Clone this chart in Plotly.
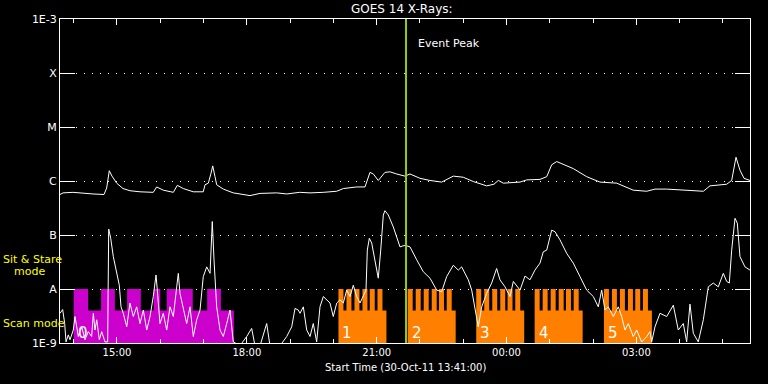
import plotly.graph_objects as go
import pandas as pd

# ---------------- data ----------------
START = pd.Timestamp("2011-10-30 13:41:00")
END = pd.Timestamp("2011-10-31 05:37:30")

# GOES 14 long channel (1-8 A): minutes after start, log10 flux (W/m^2)
long_t_min = [0, 4.2, 18, 31.9, 45.7, 61, 64.7, 68.3, 72.1, 78.6, 87.3, 97, 110.9, 129.3, 134, 143.2,
              157.1, 162.6, 170.9, 184.8, 198.6, 201, 205.6, 209.3, 211.7, 214.9, 217.2, 226.4, 240.2,
              263.4, 277.3, 300.4, 314.3, 332.3, 346.6, 365, 383.6, 392.7, 411.3, 422.8, 426, 429.7,
              434.3, 441.2, 450.5, 457.4, 466.7, 478.2, 485.2, 499, 512.9, 529.1, 545.2, 559, 572.9,
              591.5, 601.6, 607.6, 614.5, 628.4, 637.7, 646.9, 665.4, 674.7, 681.6, 688.5, 697.7,
              711.5, 730.1, 748.5, 771.7, 794.7, 813.3, 824.8, 841, 868.7, 891.8, 901, 924.2, 931.1,
              937.1, 942.6, 948.2, 956.5]
long_log10 = [-6.25, -6.22, -6.21, -6.23, -6.24, -6.25, -6.13, -5.81, -5.91, -6.04, -6.14, -6.18, -6.20,
              -6.21, -6.11, -6.17, -6.21, -6.08, -6.14, -6.20, -6.20, -6.07, -6.04, -5.86, -5.72, -5.92,
              -6.07, -6.15, -6.22, -6.27, -6.23, -6.22, -6.24, -6.21, -6.22, -6.21, -6.19, -6.14, -6.11,
              -6.11, -5.98, -5.84, -5.87, -5.99, -5.84, -5.83, -5.87, -5.91, -5.87, -5.95, -5.99, -6.02,
              -5.91, -5.93, -6.01, -6.09, -6.06, -5.99, -6.04, -6.02, -6.02, -5.98, -5.97, -5.92, -5.70,
              -5.64, -5.69, -5.77, -5.92, -6.02, -6.04, -6.17, -6.19, -6.15, -6.15, -6.17, -6.19, -6.09,
              -6.06, -5.99, -5.56, -5.80, -5.95, -5.99]

# GOES 14 short channel (0.5-4 A): minutes after start, log10 flux (W/m^2)
short_t_min = [0, 3.7, 6.5, 8.3, 11.5, 13.9, 18.4, 20.8, 25.4, 30.1, 34.7, 39.2, 43.9, 46.2, 48.5, 50.9,
               54.5, 57.8, 62.4, 66.1, 67.5, 70.3, 73.9, 78.6, 82.2, 84.6, 87.7, 92.5, 97, 101.6, 106.3,
               110.9, 115.5, 120.2, 124.8, 129.3, 133.1, 134.9, 138.6, 143.2, 147.9, 152.5, 157.1, 161.8,
               164, 166.3, 170.9, 175.6, 180.2, 184.8, 189.5, 194.1, 198.6, 203.4, 208, 211.1, 213.5,
               217.2, 221.8, 226.4, 231.1, 235.7, 240.2, 249.5, 258.8, 265.7, 270.3, 277.3, 286.5, 291.1,
               305, 314.3, 321.2, 325.8, 330.3, 332.7, 337.3, 342, 346.6, 351.1, 355.8, 360.4, 365, 369.7,
               374.3, 378.8, 383.6, 388.1, 392.7, 397.4, 402, 406.6, 411.3, 415.9, 420.4, 424.2, 426,
               428.8, 432.1, 436.7, 441.2, 444.6, 448.2, 450.5, 455.1, 462, 471.3, 478.2, 485.2, 494.5,
               503.6, 512.9, 522.2, 529.1, 536, 545.2, 552.1, 556.8, 566, 570.7, 575.3, 579.8, 584.6,
               591.5, 598.4, 605.3, 609.9, 616.9, 623.8, 628.4, 637.7, 644.6, 651.5, 658.4, 665.4, 670,
               674.7, 681.6, 686.2, 693.1, 702.4, 711.5, 720.8, 730.1, 739.3, 746.2, 750.9, 755.5, 760,
               767, 773.9, 778.6, 783.2, 787.8, 794.7, 799.4, 806.3, 813.3, 817.8, 820.2, 824.8, 831.7,
               841, 850.2, 857.1, 864, 868.7, 873.3, 877.9, 884.8, 891.8, 896.4, 898.7, 905.6, 912.5,
               919.5, 924.2, 927.8, 931.1, 935.7, 938.9, 942.6, 949.5, 956.5]
short_log10 = [-8.45, -8.38, -8.64, -8.98, -8.85, -8.94, -8.76, -8.51, -8.88, -8.70, -8.94, -8.79, -8.88,
               -8.45, -8.76, -8.57, -8.94, -8.79, -8.98, -8.98, -6.89, -7.06, -7.40, -7.74, -7.93, -8.33,
               -8.45, -8.70, -8.26, -8.51, -8.33, -8.64, -8.39, -8.76, -8.51, -8.14, -7.74, -8.02, -8.64,
               -8.45, -8.76, -8.33, -8.51, -7.96, -7.71, -8.08, -8.39, -8.64, -8.33, -8.88, -8.57, -8.39,
               -7.77, -7.59, -7.71, -6.75, -7.46, -8.33, -8.76, -8.88, -8.64, -8.39, -8.98, -9.05, -8.88,
               -8.73, -9.05, -9.05, -8.64, -9.05, -9.05, -8.88, -8.70, -8.36, -8.39, -8.45, -8.33, -8.76,
               -8.88, -8.64, -8.98, -8.33, -8.14, -8.20, -8.26, -8.51, -8.26, -8.20, -8.26, -8.02, -8.14,
               -7.93, -8.14, -8.26, -8.14, -8.02, -7.28, -7.06, -7.15, -7.52, -7.80, -7.28, -6.63, -6.55,
               -6.63, -6.85, -7.22, -7.19, -7.22, -7.46, -7.68, -7.80, -8.02, -8.05, -7.77, -7.56, -7.65,
               -7.59, -7.83, -8.02, -8.33, -8.70, -8.33, -8.08, -7.89, -7.62, -7.83, -7.96, -8.14, -7.86,
               -8.02, -7.76, -7.83, -7.65, -7.52, -7.31, -7.28, -6.91, -6.94, -7.09, -7.34, -7.52, -7.77,
               -8.02, -8.14, -8.33, -8.02, -8.39, -8.33, -8.51, -8.33, -8.51, -8.76, -8.64, -8.88, -8.76,
               -8.98, -8.88, -8.79, -8.98, -8.70, -8.45, -8.51, -8.30, -8.76, -8.64, -8.98, -8.28, -8.82,
               -8.98, -8.57, -8.14, -7.96, -7.89, -7.96, -7.71, -7.86, -7.89, -7.28, -6.69, -6.78, -7.40,
               -7.59, -7.65]

event_peak = "2011-10-30 21:40:40"

# observing-mode indicator levels
BASE_LEVEL = 1e-9
SIT_LEVEL = 1e-8      # Sit & Stare mode
SCAN_LEVEL = 4e-9     # Scan mode

# magenta period (segment edges, mode of each segment)
magenta_edges = ["2011-10-30 14:00", "2011-10-30 14:20", "2011-10-30 14:38", "2011-10-30 14:57",
                 "2011-10-30 15:14", "2011-10-30 15:33", "2011-10-30 15:51", "2011-10-30 16:00",
                 "2011-10-30 16:09", "2011-10-30 16:45", "2011-10-30 17:05", "2011-10-30 17:24",
                 "2011-10-30 17:42"]
magenta_modes = ["sit", "scan", "sit", "scan", "sit", "scan", "sit", "scan", "sit", "scan", "sit", "scan"]

# orange blocks: start times, block length, sit&stare teeth
orange_starts = ["2011-10-30 20:07", "2011-10-30 21:43", "2011-10-30 23:18",
                 "2011-10-31 00:39", "2011-10-31 02:15"]
orange_block_min = 66.5
orange_tooth_offsets_min = [0, 11.1, 22.2, 33.3, 43.4, 54.1]
orange_tooth_min = 6.9

block_labels = ["0", "1", "2", "3", "4", "5"]

y_tickvals = [1e-9, 1e-8, 1e-7, 1e-6, 1e-5, 1e-4, 1e-3]
y_ticktext = ["1E-9", "A", "B", "C", "M", "X", "1E-3"]

# ---------------- build ----------------
FONT = "DejaVu Sans"
W, H = 768, 384
ML, MR, MT, MB = 60, 18, 19, 41
PW, PH = W - ML - MR, H - MT - MB


def px_x(px):
    return (px - ML) / PW


def px_y(py):
    return (H - MB - py) / PH


def to_time(mins):
    return [START + pd.Timedelta(minutes=m) for m in mins]


def rect_path(spans):
    xs, ys = [], []
    for t0, t1, top in spans:
        xs += [t0, t0, t1, t1, t0, None]
        ys += [BASE_LEVEL, top, top, BASE_LEVEL, BASE_LEVEL, None]
    return xs, ys


level = {"sit": SIT_LEVEL, "scan": SCAN_LEVEL}
mag_spans = [(pd.Timestamp(magenta_edges[i]), pd.Timestamp(magenta_edges[i + 1]), level[m])
             for i, m in enumerate(magenta_modes)]

org_spans = []
for s in orange_starts:
    t0 = pd.Timestamp(s)
    org_spans.append((t0, t0 + pd.Timedelta(minutes=orange_block_min), SCAN_LEVEL))
    for off in orange_tooth_offsets_min:
        a = t0 + pd.Timedelta(minutes=off)
        org_spans.append((a, a + pd.Timedelta(minutes=orange_tooth_min), SIT_LEVEL))

fig = go.Figure()
mx, my = rect_path(mag_spans)
fig.add_trace(go.Scatter(x=mx, y=my, fill="toself", fillcolor="#cc00cc", mode="lines",
                         line=dict(width=0, color="#cc00cc"), hoverinfo="skip"))
ox, oy = rect_path(org_spans)
fig.add_trace(go.Scatter(x=ox, y=oy, fill="toself", fillcolor="#ff8000", mode="lines",
                         line=dict(width=0, color="#ff8000"), hoverinfo="skip"))

fig.add_trace(go.Scatter(x=to_time(long_t_min), y=[10 ** v for v in long_log10], mode="lines",
                         line=dict(color="white", width=1)))
fig.add_trace(go.Scatter(x=to_time(short_t_min), y=[10 ** v for v in short_log10], mode="lines",
                         line=dict(color="white", width=1)))

fig.add_shape(type="line", xref="x", yref="paper", x0=event_peak, x1=event_peak, y0=0, y1=1,
              line=dict(color="#99cc00", width=2), layer="above")

ann = []
ann.append(dict(text="GOES 14 X-Rays:", xref="paper", yref="paper", x=px_x(402), y=px_y(9),
                xanchor="center", yanchor="middle", showarrow=False,
                font=dict(family=FONT, size=12, color="white")))
ann.append(dict(text="Event Peak", xref="x", yref="paper", x=event_peak, xshift=10, y=px_y(43),
                xanchor="left", yanchor="middle", showarrow=False,
                font=dict(family=FONT, size=11, color="white")))
ann.append(dict(text="Start Time (30-Oct-11 13:41:00)", xref="paper", yref="paper", x=0.5,
                y=px_y(368), xanchor="center", yanchor="middle", showarrow=False,
                font=dict(family=FONT, size=10, color="white")))
ann.append(dict(text="Sit & Stare", xref="paper", yref="paper", x=px_x(1), y=px_y(259),
                xanchor="left", yanchor="middle", showarrow=False,
                font=dict(family=FONT, size=11, color="#ffff00")))
ann.append(dict(text="mode", xref="paper", yref="paper", x=px_x(12), y=px_y(271),
                xanchor="left", yanchor="middle", showarrow=False,
                font=dict(family=FONT, size=11, color="#ffff00")))
ann.append(dict(text="Scan mode", xref="paper", yref="paper", x=px_x(1), y=px_y(323.5),
                xanchor="left", yanchor="middle", showarrow=False,
                font=dict(family=FONT, size=11, color="#ffff00")))
label_starts = [magenta_edges[0]] + orange_starts
for lab, s in zip(block_labels, label_starts):
    ann.append(dict(text=lab, xref="x", yref="paper", x=s, xshift=2, y=px_y(333),
                    xanchor="left", yanchor="middle", showarrow=False,
                    font=dict(family=FONT, size=15, color="white")))

fig.update_layout(
    width=W, height=H,
    margin=dict(l=ML, r=MR, t=MT, b=MB, autoexpand=False),
    paper_bgcolor="black", plot_bgcolor="black",
    showlegend=False,
    annotations=ann,
    xaxis=dict(type="date", range=[START, END], showgrid=False, zeroline=False,
               showline=True, linecolor="white", linewidth=1, mirror="ticks",
               ticks="inside", ticklen=6, tickcolor="white", tickwidth=1,
               tickmode="linear", tick0="2011-10-30 15:00", dtick=3 * 3600 * 1000,
               tickformat="%H:%M", tickfont=dict(family=FONT, size=10, color="white"),
               minor=dict(ticks="inside", ticklen=4, tickcolor="white", dtick=3600 * 1000,
                          tick0="2011-10-30 15:00", showgrid=False)),
    yaxis=dict(type="log", range=[-9, -3], showgrid=True, gridcolor="white", gridwidth=1,
               griddash="1px,7px", zeroline=False,
               showline=True, linecolor="white", linewidth=1, mirror="ticks",
               ticks="inside", ticklen=15, tickcolor="white", tickwidth=1,
               tickvals=y_tickvals, ticktext=y_ticktext,
               tickfont=dict(family=FONT, size=11, color="white")),
)

fig.write_html("out.html")
